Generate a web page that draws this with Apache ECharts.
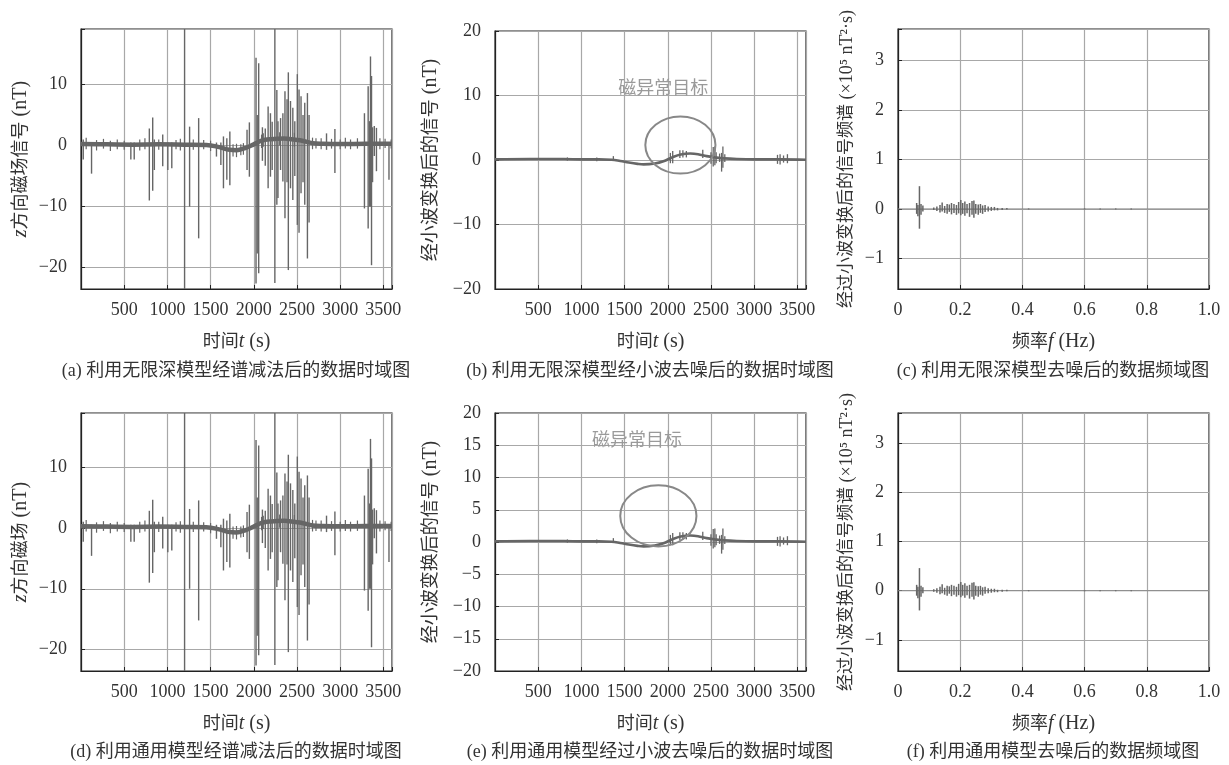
<!DOCTYPE html>
<html><head><meta charset="utf-8">
<script src="https://cdn.jsdelivr.net/npm/echarts@6/dist/echarts.min.js"></script>
<style>html,body{margin:0;padding:0;background:#fff}#c{width:1229px;height:765px}</style>
</head><body><div id="c"></div>
<script>
// ---------- DATA ----------
const timeTicks = [500, 1000, 1500, 2000, 2500, 3000, 3500];
const freqTicks = [0, 0.2, 0.4, 0.6, 0.8, 1.0];

// spectral-subtraction signal (a, d): slow trend [t, nT]
const trendRaw = [[0,0.25],[300,0.2],[600,0.15],[900,0.2],[1200,0.15],[1450,0.1],[1600,-0.25],[1720,-0.7],[1800,-0.75],[1900,-0.4],[2000,0.2],[2090,0.8],[2200,1.05],[2350,1.15],[2480,0.95],[2560,0.8],[2680,0.4],[2800,0.3],[3000,0.25],[3300,0.3],[3600,0.3]];
// spikes of raw signal [t, low, high]
const spikesRaw = [[26,-2.3,1.0],[122,-4.6,0.5],[577,-2.3,0.5],[616,-2.3,0.5],[791,-9.0,2.8],[830,-7.4,4.6],[849,-4.0,1.0],[946,-3.4,1.8],[1005,-4.0,0.5],[1051,-3.7,0.5],[1199,-30,30],[1257,-10.0,3.1],[1362,-15.2,4.5],[1568,-1.8,0.5],[1619,-3.2,0.5],[1649,-7.0,1.5],[1688,-5.6,1.2],[1723,-6.5,2.3],[1922,-4.0,2.6],[1949,-5.1,3.8],[2026,-22.6,14.4],[2040,-17.7,5.0],[2057,-20.9,13.5],[2100,-2.5,3.0],[2133,-3.3,2.8],[2166,-7.0,6.4],[2193,-5.1,5.3],[2213,-4.0,3.9],[2244,-22.5,30],[2267,-9.7,9.1],[2280,-8.6,4.0],[2310,-4.0,4.5],[2337,-5.9,5.3],[2361,-11.9,8.9],[2385,-6.0,7.6],[2400,-20.4,12.0],[2425,-7.0,7.3],[2452,-8.9,6.2],[2475,-5.0,4.0],[2504,-13.0,11.7],[2524,-14.3,9.2],[2547,-7.8,8.1],[2570,-6.0,5.0],[2590,-9.7,7.0],[2621,-18.5,8.6],[2640,-12.6,5.0],[2842,-0.7,2.0],[2939,-4.5,2.7],[3281,-10.3,5.3],[3324,-13.6,9.7],[3340,-10.0,4.0],[3351,-10.0,14.6],[3363,-19.6,11.4],[3375,-6.0,3.0],[3395,-1.7,3.2],[3420,-4.2,2.9],[3565,-5.6,0.5]];
// small noise on raw signal [t, low, high]
const noiseRaw = [[60,-0.6,1.3],[180,-0.8,0.9],[260,-0.5,1.1],[340,-0.9,0.8],[420,-0.6,1.0],[500,-0.7,0.8],[680,-0.8,1.0],[740,-0.6,1.2],[900,-0.7,1.0],[1100,-0.6,0.9],[1150,-0.8,1.1],[1300,-0.7,1.0],[1420,-0.6,0.9],[1500,-0.9,0.8],[1760,-1.8,0.2],[1800,-1.9,0.3],[1850,-1.6,0.2],[1880,-1.5,0.4],[2090,-0.4,1.8],[2110,-0.2,2.0],[2300,0.0,2.2],[2470,-0.2,2.1],[2680,-0.6,1.3],[2720,-0.5,1.2],[2780,-0.6,1.2],[2900,-0.5,1.1],[3000,-0.6,1.0],[3060,-0.5,1.3],[3120,-0.6,1.0],[3200,-0.5,1.2],[3460,-0.6,1.2],[3520,-0.4,1.1],[3590,-0.5,1.0]];

// wavelet-denoised signal (b, e): trend [t, nT]
const trendWave = [[0,0.1],[400,0.15],[800,0.15],[1000,0.1],[1200,0.1],[1350,0.05],[1450,-0.15],[1550,-0.4],[1650,-0.6],[1720,-0.68],[1850,-0.55],[1950,-0.2],[2050,0.4],[2150,0.85],[2260,1.0],[2350,0.9],[2450,0.6],[2550,0.4],[2650,0.25],[2800,0.15],[3000,0.1],[3300,0.1],[3600,0.05]];
const spikesWave = [[838,-0.1,0.4],[1178,-0.2,0.4],[1370,-0.1,0.6],[2030,-0.5,1.1],[2057,-0.5,1.4],[2140,0.3,1.5],[2175,0.4,1.5],[2215,0.4,1.4],[2405,0.3,1.6],[2500,-0.6,1.2],[2526,-1.0,2.0],[2545,-0.8,2.1],[2560,-0.5,1.2],[2600,-0.3,1.0],[2623,-1.8,1.1],[2638,-1.2,2.1],[2660,-0.3,0.9],[3270,-0.6,0.8],[3300,-0.7,0.9],[3340,-0.4,0.7],[3385,-0.5,0.9]];

// spectrum (c, f) [f Hz, low, high] (x10^5 nT^2·s)
const spectrum = [[0.060,-0.10,0.12],[0.064,-0.15,0.08],[0.069,-0.40,0.46],[0.074,-0.12,0.10],[0.080,-0.05,0.07],[0.115,-0.02,0.03],[0.125,-0.04,0.05],[0.135,-0.07,0.08],[0.142,-0.05,0.13],[0.150,-0.08,0.06],[0.158,-0.10,0.10],[0.165,-0.06,0.09],[0.172,-0.11,0.12],[0.180,-0.08,0.10],[0.188,-0.12,0.08],[0.195,-0.09,0.14],[0.202,-0.13,0.18],[0.208,-0.10,0.12],[0.215,-0.14,0.15],[0.222,-0.09,0.10],[0.230,-0.16,0.12],[0.238,-0.12,0.16],[0.244,-0.18,0.17],[0.250,-0.10,0.10],[0.258,-0.12,0.09],[0.265,-0.08,0.10],[0.272,-0.10,0.07],[0.280,-0.06,0.08],[0.290,-0.05,0.05],[0.300,-0.04,0.04],[0.310,-0.03,0.04],[0.320,-0.03,0.02],[0.335,-0.02,0.02],[0.350,-0.01,0.02],[0.420,-0.01,0.01],[0.600,-0.01,0.01],[0.650,-0.01,0.01],[0.700,-0.01,0.01],[0.750,-0.01,0.01]];
const spectrumBase = [[0,0],[1,0]];

// annotations: text position [t, nT]; ring [t, nT, rx(t), ry(nT)]
const targetLabel = '磁异常目标';
const targetTextB = [1949, 10.9];
const targetRingB = [2146, 2.33, 406, 4.43];
const targetTextE = [1643, 15.6];
const targetRingE = [1891, 4.04, 441, 4.74];

const captions = ['(a) 利用无限深模型经谱减法后的数据时域图','(b) 利用无限深模型经小波去噪后的数据时域图','(c) 利用无限深模型去噪后的数据频域图','(d) 利用通用模型经谱减法后的数据时域图','(e) 利用通用模型经过小波去噪后的数据时域图','(f) 利用通用模型去噪后的数据频域图'];

// ---------- LAYOUT / STYLE ----------
const FONT = "'Liberation Serif','DejaVu Serif','Noto Sans CJK SC',serif";
const TXT = '#333';
const LINE = '#666';
const grids = [
  {left:81, top:29, width:311, height:260},
  {left:495, top:31, width:311, height:258},
  {left:898, top:29, width:311, height:260},
  {left:81, top:413, width:311, height:258},
  {left:495, top:413, width:311, height:258},
  {left:898, top:413, width:311, height:258}
];
const yRanges = [[-23.5,19.1,10],[-20,20,10],[-1.62,3.64,1],[-23.5,18.85,10],[-20,20,5],[-1.63,3.61,1]];
const yNames = ['{it|z}方向磁场信号{l| (nT)}','经小波变换后的信号{l| (nT)}','经过小波变换后的信号频谱{s| (×10⁵ nT²·s)}','{it|z}方向磁场{l| (nT)}','经小波变换后的信号{l| (nT)}','经过小波变换后的信号频谱{s| (×10⁵ nT²·s)}'];
const yGaps = [50,54,42,50,54,42];

function minus(v){ return v < 0 ? '\u2212' + (-v) : String(v); }
const rich = {
  it:{fontStyle:'italic', fontFamily:FONT, fontSize:20, color:TXT},
  l:{fontFamily:FONT, fontSize:20, color:TXT},
  s:{fontFamily:FONT, fontSize:18, color:TXT}
};

const xAxes = [], yAxes = [];
for (let i = 0; i < 6; i++) {
  const isFreq = (i % 3 === 2);
  xAxes.push({
    type:'value', gridIndex:i,
    min:0, max: isFreq ? 1 : 3600, interval: isFreq ? 0.2 : 500,
    axisLine:{show:true, onZero:false, lineStyle:{color:'#222', width:1.2}},
    axisTick:{show:true, inside:true, length:4, lineStyle:{color:'#222'}},
    splitLine:{show:true, lineStyle:{color:'#a8a8a8', width:1.2}},
    axisLabel:{
      fontSize:18, color:TXT, fontFamily:FONT, margin:12,
      formatter: isFreq
        ? (v => { const k = Math.round(v*10)/10; const ok = freqTicks.some(t => Math.abs(t-k) < 1e-6) && Math.abs(v-k) < 1e-6; return ok ? (k === 0 ? '0' : k.toFixed(1)) : ''; })
        : (v => timeTicks.indexOf(Math.round(v)) >= 0 && Math.abs(v-Math.round(v))<1e-6 ? String(Math.round(v)) : '')
    },
    name: isFreq ? '频率{it|f}{l| (Hz)}' : '时间{it|t}{l| (s)}',
    nameLocation:'middle', nameGap:43,
    nameTextStyle:{fontSize:18, color:TXT, fontFamily:FONT, rich:rich}
  });
  const r = yRanges[i];
  yAxes.push({
    type:'value', gridIndex:i, min:r[0], max:r[1], minInterval:r[2], maxInterval:r[2], splitNumber:5,
    axisLine:{show:true, onZero:false, lineStyle:{color:'#222', width:1.2}},
    axisTick:{show:true, inside:true, length:4, lineStyle:{color:'#222'}},
    splitLine:{show:true, lineStyle:{color:'#a8a8a8', width:1.2}},
    axisLabel:{fontSize:18, color:TXT, fontFamily:FONT, margin:14,
      formatter: v => (Math.abs(v/r[2] - Math.round(v/r[2])) < 1e-6 ? minus(Math.round(v)) : '')},
    name: yNames[i], nameLocation:'middle', nameGap:yGaps[i],
    nameTextStyle:{fontSize:isFreq ? 17 : 18, color:TXT, fontFamily:FONT, rich:rich}
  });
}

function segSeries(idx, data, color, width) {
  const lo = yRanges[idx][0], hi = yRanges[idx][1];
  return {
    type:'custom', xAxisIndex:idx, yAxisIndex:idx, data:data, encode:{x:0, y:[1,2]},
    silent:true, z:3,
    renderItem: function(params, api) {
      const x = api.value(0);
      const a = Math.max(lo, Math.min(hi, api.value(1)));
      const b = Math.max(lo, Math.min(hi, api.value(2)));
      const p1 = api.coord([x, a]), p2 = api.coord([x, b]);
      return {type:'line', shape:{x1:p1[0], y1:p1[1], x2:p2[0], y2:p2[1]}, style:{stroke:color, lineWidth:width}};
    }
  };
}
function lineSeries(idx, data, width) {
  return {type:'line', xAxisIndex:idx, yAxisIndex:idx, data:data, showSymbol:false, symbol:'none',
    smooth:0.4, silent:true, z:2, lineStyle:{color:LINE, width:width}};
}
function ringSeries(idx, ring) {
  return {type:'custom', xAxisIndex:idx, yAxisIndex:idx, data:[ring], silent:true, z:4,
    renderItem: function(params, api) {
      const c = api.coord([api.value(0), api.value(1)]);
      const s = api.size([api.value(2), api.value(3)]);
      return {type:'ellipse', shape:{cx:c[0], cy:c[1], rx:s[0], ry:s[1]}, style:{stroke:'#888', fill:null, lineWidth:2}};
    }};
}
function textSeries(idx, pos) {
  return {type:'custom', xAxisIndex:idx, yAxisIndex:idx, data:[pos], silent:true, z:4,
    renderItem: function(params, api) {
      const c = api.coord([api.value(0), api.value(1)]);
      return {type:'text', x:c[0], y:c[1], style:{text:targetLabel, fill:'#9a9a9a', fontSize:18, fontFamily:FONT, align:'center', verticalAlign:'middle'}};
    }};
}

const series = [];
[0,3].forEach(i => {
  series.push(lineSeries(i, trendRaw, 4.5));
  series.push(segSeries(i, noiseRaw, LINE, 1.2));
  series.push(segSeries(i, spikesRaw, LINE, 1.4));
});
[1,4].forEach(i => {
  series.push(lineSeries(i, trendWave, 2.6));
  series.push(segSeries(i, spikesWave, LINE, 1.3));
});
series.push(ringSeries(1, targetRingB), textSeries(1, targetTextB));
series.push(ringSeries(4, targetRingE), textSeries(4, targetTextE));
[2,5].forEach(i => {
  series.push({type:'line', xAxisIndex:i, yAxisIndex:i, data:spectrumBase, symbol:'none', silent:true, z:2, lineStyle:{color:'#888', width:1}});
  series.push(segSeries(i, spectrum, LINE, 1.5));
});

const capX = [236, 650, 1053, 236, 650, 1053];
const capY = [371, 371, 371, 752, 752, 752];
const graphic = captions.map((t, i) => ({type:'text', x:capX[i], y:capY[i], silent:true,
  style:{text:t, fill:TXT, fontSize:18, fontFamily:FONT, align:'center', verticalAlign:'middle'}}));

const chart = echarts.init(document.getElementById('c'), null, {renderer:'canvas'});
chart.setOption({
  animation:false,
  backgroundColor:'#fff',
  grid: grids.map(g => Object.assign({show:true, borderColor:'#222', borderWidth:1.2, backgroundColor:'transparent', containLabel:false}, g)),
  xAxis: xAxes, yAxis: yAxes, series: series, graphic: graphic
});
</script></body></html>
